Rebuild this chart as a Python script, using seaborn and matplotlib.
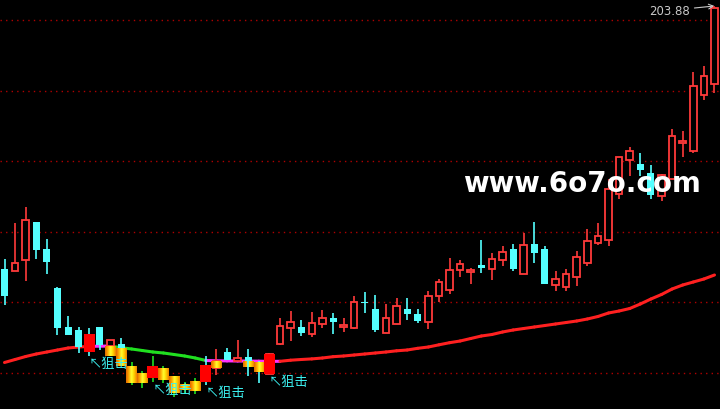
import numpy as np
import pandas as pd
import matplotlib
matplotlib.use("Agg")
import matplotlib.pyplot as plt
import seaborn as sns
from matplotlib.collections import LineCollection
from matplotlib.colors import LinearSegmentedColormap

# daily candles
opens = [151.28, 150.88, 153.08, 160.68, 155.28, 147.48, 139.68, 139.08, 138.28, 139.68,
         135.88, 136.28, 131.88, 130.48, 131.88, 131.48, 129.88, 128.28, 128.88, 132.08,
         131.48, 134.68, 132.88, 133.68, 132.68, 130.28, 136.28, 139.48, 139.68, 138.28,
         140.28, 141.48, 139.68, 139.48, 144.68, 143.28, 138.48, 140.28, 143.28, 142.28,
         140.68, 145.88, 147.08, 151.08, 150.68, 152.08, 151.28, 153.08, 155.28, 150.28,
         156.28, 155.28, 148.08, 147.68, 149.68, 152.48, 156.48, 157.08, 166.28, 173.08,
         172.28, 170.48, 165.88, 169.28, 176.48, 174.88, 186.08, 188.28]
highs = [153.28, 160.48, 163.68, 160.68, 157.28, 147.68, 141.88, 139.68, 139.48, 139.68,
         137.08, 137.48, 132.68, 130.88, 133.88, 131.88, 129.88, 128.68, 129.48, 133.88,
         135.28, 135.48, 137.08, 135.28, 132.88, 134.48, 141.48, 142.88, 141.08, 142.68,
         143.08, 142.48, 141.48, 145.88, 146.68, 146.08, 144.28, 145.48, 145.48, 143.28,
         146.88, 149.28, 153.48, 153.08, 151.48, 157.08, 154.48, 155.88, 156.28, 158.48,
         160.68, 155.88, 150.88, 151.28, 154.88, 159.28, 160.48, 169.28, 173.68, 175.68,
         174.48, 172.08, 170.28, 179.28, 178.88, 190.68, 191.88, 203.88]
lows = [144.08, 150.88, 148.88, 153.28, 150.28, 138.08, 138.08, 134.48, 133.88, 135.08,
        135.88, 135.48, 128.08, 127.48, 128.68, 128.48, 125.68, 126.28, 126.28, 128.08,
        130.08, 133.08, 132.88, 129.88, 128.48, 130.28, 136.08, 136.88, 137.88, 137.68,
        139.48, 138.28, 138.68, 139.28, 142.48, 138.68, 138.48, 140.28, 141.08, 140.48,
        139.28, 144.68, 146.28, 149.68, 148.28, 150.48, 149.08, 151.88, 150.88, 150.28,
        152.48, 148.28, 146.88, 146.88, 147.88, 151.88, 156.08, 155.88, 165.28, 169.88,
        169.88, 165.28, 164.88, 169.28, 173.68, 174.48, 185.08, 186.48]
closes = [145.88, 152.48, 161.08, 155.08, 152.68, 139.48, 138.08, 135.68, 134.68, 136.08,
          137.08, 135.48, 128.48, 128.48, 129.48, 129.08, 126.48, 127.08, 126.88, 128.68,
          132.88, 133.08, 133.48, 132.88, 130.68, 134.28, 139.88, 140.68, 138.48, 140.48,
          141.48, 140.68, 140.08, 144.68, 144.48, 139.08, 141.48, 143.88, 142.28, 140.88,
          145.88, 148.68, 151.08, 152.28, 151.08, 151.48, 153.28, 154.68, 151.28, 156.08,
          154.48, 148.28, 149.28, 150.28, 153.68, 156.88, 157.88, 167.28, 173.68, 174.88,
          171.08, 166.08, 170.08, 177.88, 176.88, 187.88, 189.88, 203.48]

# moving average line
ma_line = [132.58, 133.18, 133.78, 134.28, 134.68, 135.08, 135.48, 135.68, 135.80, 135.85,
           135.86, 135.54, 135.28, 134.98, 134.68, 134.48, 134.18, 133.88, 133.48, 132.98,
           132.92, 132.90, 132.88, 132.87, 132.84, 132.80, 132.82, 133.04, 133.18, 133.30,
           133.48, 133.74, 133.88, 134.08, 134.28, 134.48, 134.68, 134.92, 135.08, 135.42,
           135.68, 136.12, 136.54, 136.88, 137.38, 137.88, 138.18, 138.68, 139.08, 139.38,
           139.68, 139.98, 140.28, 140.58, 140.88, 141.28, 141.78, 142.48, 142.88, 143.38,
           144.28, 145.28, 146.18, 147.28, 148.08, 148.68, 149.28, 150.08]

# "狙击" signals and the weak-zone sticks
signal_idx = [8, 14, 19, 25]
signal_label = "↖狙击"
green_wick_idx = [12, 13, 14, 15, 16, 17, 18]
grad_idx = [10, 11, 12, 13, 15, 16, 17, 18, 20, 23, 24]
grad_top = [135.88, 135.48, 131.88, 130.48, 131.48, 129.88, 128.28, 128.88, 132.88, 132.88, 132.68]
grad_bottom = [133.88, 131.88, 128.48, 128.48, 129.08, 126.48, 127.08, 126.88, 131.48, 131.68, 130.68]

grid_levels = [130.48, 144.58, 158.68, 172.88, 186.98, 201.18]
high_label = "203.88"
watermark = "www.6o7o.com"

RED = "#ff3a3a"
CYAN = "#54ffff"

df = pd.DataFrame({"open": opens, "high": highs, "low": lows, "close": closes})
df["i"] = np.arange(len(df))
df["up"] = df["close"] >= df["open"]
df["top"] = df[["open", "close"]].max(axis=1)
df["bot"] = df[["open", "close"]].min(axis=1)

sns.set_theme(style="dark", rc={"axes.facecolor": "black", "figure.facecolor": "black"})
plt.rcParams['font.family'] = ['Noto Sans CJK SC', 'DejaVu Sans']

fig = plt.figure(figsize=(7.2, 4.1), dpi=100)
ax = fig.add_axes([0, 0, 1, 1])
ax.set_facecolor("black")

# dotted grid
for lv in grid_levels:
    ax.axhline(lv, color="#b00000", lw=1, linestyle=(0, (1, 3)), zorder=1)

# MA line coloured by slope
ma = np.array(ma_line)
diff = np.diff(ma)
seg_cols = np.where(diff > 0.08, "#ff2020", np.where(diff < -0.08, "#20e020", "#ff30ff"))
segs = [[(k, ma[k]), (k + 1, ma[k + 1])] for k in range(len(ma) - 1)]
ax.add_collection(LineCollection(segs, colors=seg_cols, linewidths=2.2, capstyle="round", zorder=2))

# candle bodies
body_h = (df["top"] - df["bot"]).clip(lower=0.2)
up = df[df["up"]]
dn = df[~df["up"]]
ax.bar(up["i"], body_h[up.index], bottom=up["bot"], width=0.62,
       facecolor="black", edgecolor=RED, linewidth=1.3, zorder=3)
ax.bar(dn["i"], body_h[dn.index], bottom=dn["bot"], width=0.66,
       color=CYAN, linewidth=0, zorder=3)

# gradient sticks
grad_cmap = LinearSegmentedColormap.from_list("grad", ["#e06a00", "#ffa800", "#ffff30", "#ffd000", "#f08000"])
g = np.linspace(0, 1, 32).reshape(1, -1)
for i, t, b in zip(grad_idx, grad_top, grad_bottom):
    ax.imshow(g, cmap=grad_cmap, extent=[i - 0.5, i + 0.5, b, t], aspect="auto",
              interpolation="bilinear", zorder=4)

# wicks
wick_cols = []
for i, row in df.iterrows():
    if i in green_wick_idx:
        wick_cols.append("#20e020")
    elif row["up"]:
        wick_cols.append(RED)
    else:
        wick_cols.append(CYAN)
ax.vlines(df["i"], df["top"], df["high"], colors=wick_cols, lw=1.2, zorder=4.5)
ax.vlines(df["i"], df["low"], df["bot"], colors=wick_cols, lw=1.2, zorder=4.5)

# signal bars + labels
sig = df.loc[signal_idx]
ax.bar(sig["i"], sig["top"] - sig["bot"], bottom=sig["bot"], width=1.04,
       color="#ff0000", linewidth=0, zorder=5)
for i in signal_idx:
    ax.text(i - 0.05, lows[i] - 0.1, signal_label, color="#3cf0f0", fontsize=9.5,
            ha="left", va="top", zorder=6)

# high price marker
last = len(df) - 1
ax.annotate(high_label, xy=(last, highs[last]), xytext=(0.958, 0.972),
            textcoords="axes fraction", ha="right", va="center", color="#c8c8c8",
            fontsize=8.5, family="DejaVu Sans",
            arrowprops=dict(arrowstyle="->", color="#c8c8c8", lw=0.8, shrinkA=1, shrinkB=0))

ax.text(0.808, 0.551, watermark, transform=ax.transAxes, ha="center", va="center",
        color="white", fontsize=20, fontweight="bold", family="DejaVu Sans", zorder=7)

ax.set_xlim(-0.425, 67.52)
ax.set_ylim(123.28, 205.28)
ax.axis("off")

fig.savefig("out.png", dpi=100, facecolor="black")
